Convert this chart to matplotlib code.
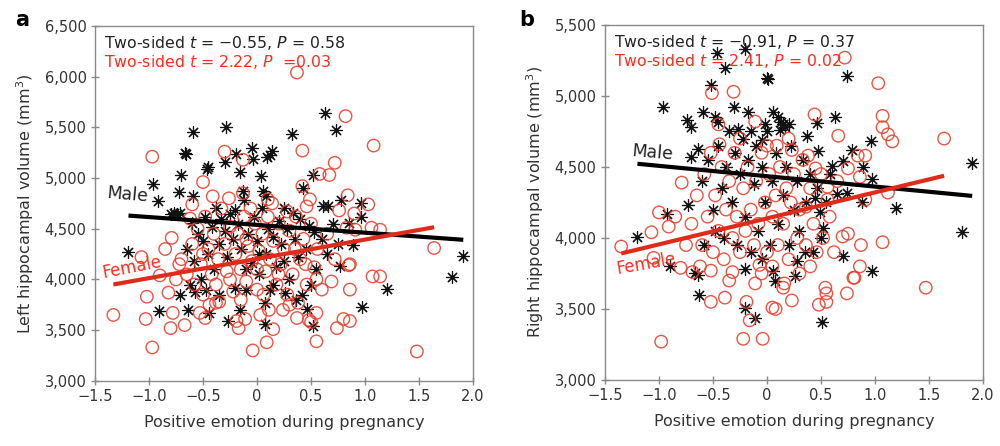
import matplotlib
matplotlib.use("Agg")
import matplotlib.pyplot as plt
import numpy as np

plt.rcParams['font.family'] = ['DejaVu Sans']
plt.rcParams['mathtext.fontset'] = 'dejavusans'

# ---------------- Panel a: left hippocampal volume ----------------
left_male_x = [-0.59, -0.29, 0.32, 0.63, 0.73, -0.67, -0.66, -0.19, -0.05, -0.04, 0.09, 0.14, 0.12,
               -0.45, -0.46, -0.30, -0.70, -0.16, 0.04, 0.52, -0.96, -0.92, -0.72, -0.59, -0.13, 0.06,
               0.08, 0.43, 0.78, 0.96, 0.61, 0.66, 0.96, 0.89, 0.77, -0.77, -0.74, -0.71, -1.19, -0.71,
               -0.64, -0.91, -0.44, -0.27, -0.16, 0.07, 0.07, 0.26, 0.46, 0.52, 0.97, 1.20, 1.81, 1.91,
               -0.60, -0.55, -0.50, -0.48, -0.45, -0.42, -0.40, -0.38, -0.35, -0.33, -0.30, -0.28, -0.25,
               -0.22, -0.20, -0.18, -0.15, -0.12, -0.10, -0.08, -0.05, -0.03, 0.00, 0.02, 0.05, 0.08, 0.10,
               0.12, 0.15, 0.18, 0.20, 0.22, 0.25, 0.28, 0.30, 0.33, 0.35, 0.38, 0.40, 0.42, 0.45, 0.48,
               0.50, 0.53, 0.55, 0.60, 0.65, 0.70, 0.75, 0.85, -0.62, -0.58, -0.52, -0.47, -0.65, -0.80,
               -0.35, -0.10, 0.15, 0.25, 0.02, -0.20, 0.36, -0.57]
left_male_y = [5455, 5500, 5430, 5640, 5475, 5250, 5240, 5240, 5300, 5190, 5210, 5270, 5230,
               5110, 5090, 5160, 5030, 5060, 5020, 5030, 4940, 4770, 4860, 4820, 4870, 4870,
               4820, 4900, 4780, 4750, 4720, 4720, 4620, 4340, 4130, 4660, 4650, 4660, 4270, 3850,
               3700, 3690, 3670, 3590, 3700, 3560, 3770, 3870, 3710, 3540, 3730, 3910, 4020, 4230,
               4560, 4450, 4380, 4620, 4250, 4520, 4100, 4700, 4350, 4600, 4480, 4220, 4650,
               4400, 3920, 4550, 4300, 4780, 3900, 4450, 4160, 4620, 4380, 4050, 4700, 4250, 4500,
               3900, 4420, 4120, 4580, 4350, 4180, 4500, 4000, 4660, 4400, 4220, 4600, 3850, 4300, 4530,
               3950, 4470, 4100, 4400, 4250, 4550, 4350, 4560, 3950, 4180, 4000, 3900, 4300, 4650,
               3850, 4100, 3950, 4700, 4250, 4680, 3800, 3880]

left_female_x = [0.37, 0.82, 1.08, 0.42, -0.97, -0.30, -0.13, 0.72, 0.58, 0.67, -0.50, 0.42, -0.41,
                 -0.13, 0.10, 0.49, 0.84, 1.03, 0.46, 0.28, 0.90, 0.76, 0.83, 0.91, 1.06, 1.14, 0.86,
                 1.64, -0.79, -1.07, -0.72, -0.60, -0.90, -1.33, -1.02, -1.03, -0.97, -0.82, -0.80,
                 -0.78, -0.67, -0.53, -0.48, -0.38, -0.19, -0.17, -0.11, -0.04, 0.09, 0.15, 0.11, 0.03,
                 0.37, 0.38, 0.48, 0.50, 0.55, 0.55, 0.69, 0.74, 0.80, 0.86, 0.86, 0.85, 1.07, 1.14, 1.48,
                 -0.70, -0.65, -0.60, -0.58, -0.55, -0.52, -0.50, -0.48, -0.45, -0.42, -0.40, -0.38,
                 -0.36, -0.33, -0.30, -0.28, -0.25, -0.22, -0.20, -0.18, -0.15, -0.12, -0.10, -0.08,
                 -0.05, -0.02, 0.00, 0.02, 0.05, 0.08, 0.10, 0.12, 0.15, 0.18, 0.20, 0.22, 0.25, 0.28,
                 0.30, 0.33, 0.36, 0.40, 0.43, 0.46, 0.50, 0.53, 0.56, 0.60, 0.65, 0.72, -0.62, -0.44,
                 -0.26, -0.06, 0.14, 0.30, -0.35, -0.15, 0.06, 0.24, -0.75, -0.85, 0.45, 0.55, -0.50,
                 0.00, -0.25, 0.20, -0.10, 0.35]
left_female_y = [6040, 5610, 5320, 5270, 5210, 5260, 5180, 5150, 5040, 5030, 4960, 4920, 4820,
                 4850, 4790, 4790, 4830, 4740, 4720, 4670, 4650, 4680, 4510, 4490, 4510, 4490, 4150,
                 4310, 4410, 4220, 4150, 4740, 4040, 3650, 3830, 3610, 3330, 3870, 3520,
                 3670, 3550, 3670, 3620, 3770, 3590, 3520, 3610, 3300, 3380, 3510, 3700, 3650,
                 3620, 3770, 3600, 3580, 3390, 3670, 3980, 3520, 3610, 3590, 3900, 4140, 4030, 4030, 3290,
                 4200, 4050, 4350, 3950, 4500, 4150, 3850, 4620, 4300, 4050, 4450, 3950,
                 4200, 4700, 4350, 4080, 4520, 3880, 4250, 4450, 4100, 4620, 3980, 4330,
                 4180, 4550, 3900, 4280, 4450, 4080, 4620, 4200, 4380, 3950, 4550, 4150, 4300, 3850,
                 4480, 4050, 4620, 4200, 4400, 3950, 4550, 4120, 4300, 3900, 4450, 4200, 4600, 3750,
                 4800, 4700, 4750, 3750, 3780, 3800, 3850, 3700, 4000, 4300, 4150, 4000, 4250,
                 4100, 4000, 4050, 4400, 4300]

# ---------------- Panel b: right hippocampal volume ----------------
right_male_x = [-0.46, -0.20, -0.39, 0.00, 0.74, 0.01, -0.52, -0.96, -0.74, -0.70, -0.59, -0.48, -0.45,
                -0.31, -0.18, 0.06, 0.15, 0.17, 0.13, 0.46, 0.63, 0.37, -0.27, -0.05, 0.47, 0.60, 0.79,
                0.70, 0.74, 0.65, 0.44, 0.49, 0.52, 0.70, 0.96, 0.89, 0.97, 0.88, 1.19, 1.81, 0.97, 1.90,
                -0.64, -0.70, -0.93, -1.20, -0.90, -0.67, -0.63, -0.73, -0.20, -0.11, 0.07, 0.26, -0.20,
                0.06, 0.28, 0.51, -0.64,
                -0.60, -0.55, -0.50, -0.45, -0.42, -0.40, -0.38, -0.35, -0.32, -0.30, -0.28, -0.25, -0.22,
                -0.20, -0.18, -0.15, -0.12, -0.10, -0.08, -0.05, -0.02, 0.00, 0.03, 0.05, 0.08, 0.10, 0.12,
                0.15, 0.18, 0.20, 0.22, 0.25, 0.28, 0.30, 0.33, 0.36, 0.40, 0.43, 0.46, 0.50, 0.55, 0.58,
                -0.58, -0.48, -0.02, 0.10, 0.20, -0.15, -0.05, 0.35]
right_male_y = [5300, 5330, 5200, 5130, 5140, 5120, 5080, 4920, 4830, 4780, 4890, 4850, 4820,
                4920, 4890, 4890, 4800, 4780, 4820, 4810, 4850, 4720, 4770, 4690, 4610, 4510, 4620,
                4540, 4320, 4310, 4280, 4180, 4070, 3870, 4680, 4500, 4415, 4250, 4210, 4040, 3770, 4530,
                4630, 4570, 4170, 4010, 3800, 3750, 3600, 4230, 3510, 3440, 3700, 3730, 3780,
                3770, 3840, 3410, 3740,
                4400, 4550, 4200, 4650, 4350, 4000, 4500, 4750, 4250, 4600, 3950, 4450, 4700,
                4150, 4550, 3900, 4380, 4650, 4050, 4500, 4250, 4750, 3950, 4400, 4600, 4100, 4760,
                4300, 4500, 3950, 4650, 4200, 4400, 4050, 4550, 4250, 4450, 3900, 4350, 4000, 4250, 4450,
                3950, 4050, 4800, 4850, 4800, 4750, 3850, 3900]

right_female_x = [0.72, 1.03, 1.07, 1.07, 1.12, 1.16, 1.64, 0.91, 0.86, 0.91, 1.12, 0.87, 1.07, 0.86,
                  1.47, -0.98, -0.52, -0.39, -0.19, -0.16, -0.22, -0.04, 0.05, 0.08, 0.23, -0.11, 0.16,
                  0.48, 0.55, 0.55, 0.54, 0.74, 0.80, -0.32, -0.52, -0.69, -0.80, -0.07, 0.05, -0.51,
                  -0.44, -0.79, -1.00, -1.07, -0.91, -1.35, -1.05, -0.31, 0.44, 0.66, -0.11, 0.09, 0.23,
                  0.38, 0.45, 0.84, 0.75, 0.56, 0.56, 0.36, 0.70, 0.75, 0.81, 0.15,
                  -0.70, -0.65, -0.60, -0.58, -0.55, -0.52, -0.50, -0.48, -0.45, -0.42, -0.40, -0.38,
                  -0.35, -0.32, -0.30, -0.28, -0.25, -0.22, -0.20, -0.18, -0.15, -0.12, -0.10, -0.08,
                  -0.05, -0.02, 0.00, 0.02, 0.05, 0.08, 0.10, 0.12, 0.15, 0.18, 0.20, 0.22, 0.25, 0.28,
                  0.30, 0.33, 0.36, 0.40, 0.43, 0.46, 0.50, 0.52, 0.58, 0.62, 0.65, -0.75, -0.85, -0.62,
                  -0.35, 0.00, -0.25, 0.30, 0.40, -0.05, 0.20, -0.45]
right_female_y = [5270, 5090, 4860, 4780, 4730, 4680, 4700, 4580, 4430, 4270, 4320, 3950, 3970, 3800,
                  3650, 3270, 3550, 3580, 3550, 3420, 3290, 3290, 3510, 3500, 3560, 3680, 3680,
                  3530, 3550, 3610, 3650, 3610, 3720, 3760, 3770, 3760, 3790, 3810, 3800, 5020,
                  4660, 4390, 4180, 4040, 4080, 3940, 3860, 5030, 4870, 4720, 4820, 4650, 4620,
                  4580, 4490, 4580, 4490, 4270, 4360, 4220, 4010, 4030, 3720, 3650,
                  4100, 4300, 3950, 4450, 4150, 4600, 3900, 4300, 4050, 4500, 3850, 4200,
                  4400, 4000, 4600, 4150, 3900, 4350, 4050, 4500, 4200, 3950, 4400, 4100,
                  4600, 4250, 3900, 4450, 4150, 4300, 3950, 4500, 4100, 4350, 3850, 4250, 4450, 4000,
                  4200, 4550, 3950, 4350, 4100, 3900, 4450, 4000, 4150, 3900, 4400, 3950, 4150, 3800,
                  3700, 4650, 4700, 3750, 3800, 3750, 4700, 4800]

# Regression lines: [intercept, slope]
left_male_fit = [4538, -77]
left_female_fit = [4203, 190]
right_male_fit = [4435, -73]
right_female_fit = [4138, 183]

left_yticks = [3000, 3500, 4000, 4500, 5000, 5500, 6000, 6500]
right_yticks = [3000, 3500, 4000, 4500, 5000, 5500]
xticks = [-1.5, -1.0, -0.5, 0, 0.5, 1.0, 1.5, 2.0]
xtick_labels = ['\u22121.5', '\u22121.0', '\u22120.5', '0', '0.5', '1.0', '1.5', '2.0']

left_stats = ['Two-sided $\\it{t}$ = \u22120.55, $\\it{P}$ = 0.58',
              'Two-sided $\\it{t}$ = 2.22, $\\it{P}$  =0.03']
right_stats = ['Two-sided $\\it{t}$ = \u22120.91, $\\it{P}$ = 0.37',
               'Two-sided $\\it{t}$ = 2.41, $\\it{P}$ = 0.02']

MALE_C = '#111111'
FEM_C = '#e8412f'
LINE_RED = '#e02a1a'
TXT = '#333333'
SPINE = '#8a8a8a'

fig = plt.figure(figsize=(10, 4.46), dpi=100)
ax_a = fig.add_axes([0.095, 0.146, 0.378, 0.796])
ax_b = fig.add_axes([0.605, 0.148, 0.378, 0.796])

asterisk = (8, 2, 0)


def draw(ax, mx, my, fx, fy, mfit, ffit, yticks, ylim, ylabel, stats,
         male_lab, fem_lab):
    ax.scatter(mx, my, marker=asterisk, s=75, color=MALE_C, linewidths=0.85, zorder=2)
    ax.scatter(fx, fy, marker='o', s=80, facecolors='none', edgecolors=FEM_C,
               linewidths=1.0, alpha=0.9, zorder=3)
    xm = np.array([min(mx), max(mx)])
    ax.plot(xm, mfit[0] + mfit[1] * xm, color='black', lw=3, zorder=4, solid_capstyle='butt')
    xf = np.array([min(fx), max(fx)])
    ax.plot(xf, ffit[0] + ffit[1] * xf, color=LINE_RED, lw=3, zorder=4, solid_capstyle='butt')
    ax.set_xlim(-1.5, 2.0)
    ax.set_ylim(*ylim)
    ax.set_xticks(xticks)
    ax.set_xticklabels(xtick_labels)
    ax.set_yticks(yticks)
    ax.set_yticklabels([f'{v:,}' for v in yticks])
    ax.tick_params(direction='inout', length=6, width=1, color=SPINE,
                   labelsize=10.5, labelcolor=TXT, pad=3)
    for s in ax.spines.values():
        s.set_color(SPINE)
        s.set_linewidth(1.0)
    ax.set_xlabel('Positive emotion during pregnancy', fontsize=11.5, color=TXT, labelpad=8)
    ax.set_ylabel(ylabel, fontsize=11.5, color=TXT, labelpad=6)
    ax.text(0.024, 0.952, stats[0], transform=ax.transAxes, fontsize=11.3,
            color='#222222', va='center', ha='left', zorder=6)
    ax.text(0.024, 0.898, stats[1], transform=ax.transAxes, fontsize=11.3,
            color='#ff2a1f', va='center', ha='left', zorder=6)
    ax.text(male_lab[0], male_lab[1], 'Male', fontsize=12.5, color='#222222',
            rotation=male_lab[2], ha='center', va='center', zorder=6)
    ax.text(fem_lab[0], fem_lab[1], 'Female', fontsize=12, color='#ff2a1f',
            rotation=fem_lab[2], ha='center', va='center', zorder=6)


draw(ax_a, left_male_x, left_male_y, left_female_x, left_female_y,
     left_male_fit, left_female_fit, left_yticks, (3000, 6500),
     'Left hippocampal volume (mm$^3$)', left_stats,
     (-1.2, 4830, -5), (-1.16, 4120, 11))
draw(ax_b, right_male_x, right_male_y, right_female_x, right_female_y,
     right_male_fit, right_female_fit, right_yticks, (3000, 5500),
     'Right hippocampal volume (mm$^3$)', right_stats,
     (-1.06, 4600, -5), (-1.12, 3820, 10))

fig.text(0.015, 0.955, 'a', fontsize=15, fontweight='bold', va='center', ha='left')
fig.text(0.519, 0.955, 'b', fontsize=15, fontweight='bold', va='center', ha='left')

fig.savefig('out.png', dpi=100)
